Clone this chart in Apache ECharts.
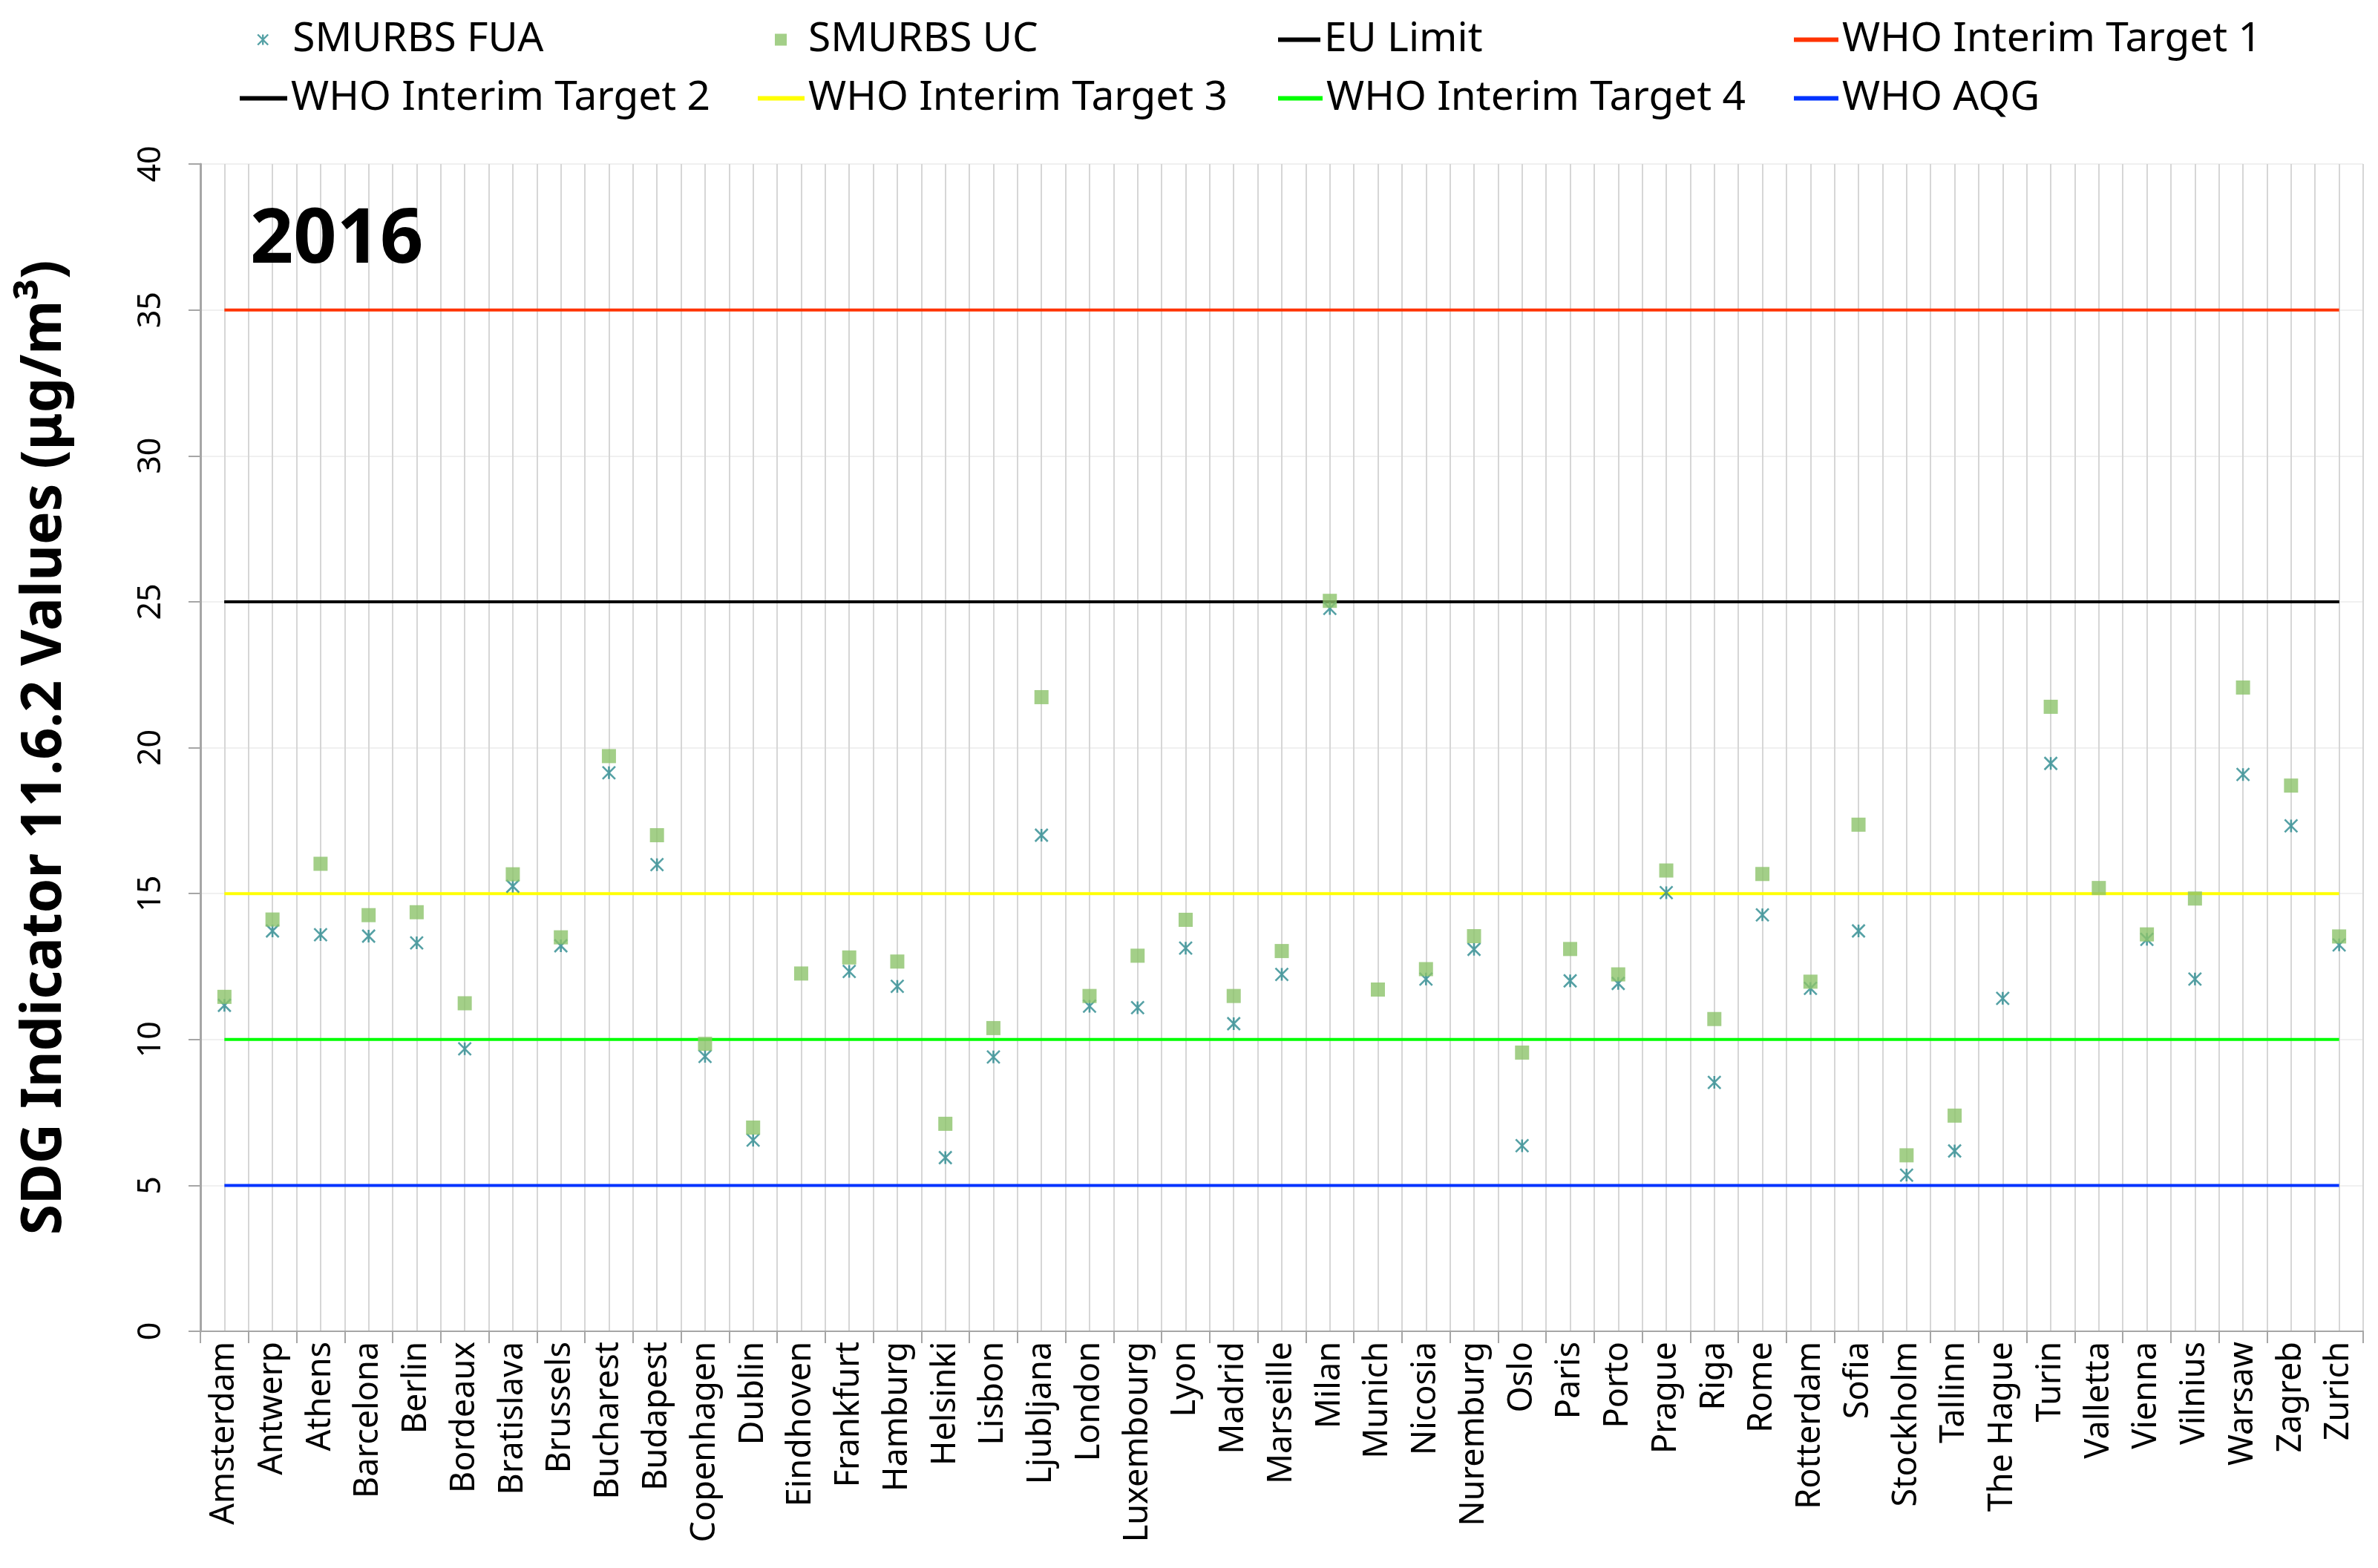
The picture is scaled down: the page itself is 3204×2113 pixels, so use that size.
<!DOCTYPE html>
<html>
<head>
<meta charset="utf-8">
<script src="https://cdn.jsdelivr.net/npm/echarts@6/dist/echarts.min.js"></script>
<style>
html,body{margin:0;padding:0;background:#fff;}
#chart{width:3204px;height:2113px;}
</style>
</head>
<body>
<div id="chart"></div>
<script>
const cities = ['Amsterdam','Antwerp','Athens','Barcelona','Berlin','Bordeaux','Bratislava','Brussels','Bucharest','Budapest','Copenhagen','Dublin','Eindhoven','Frankfurt','Hamburg','Helsinki','Lisbon','Ljubljana','London','Luxembourg','Lyon','Madrid','Marseille','Milan','Munich','Nicosia','Nuremburg','Oslo','Paris','Porto','Prague','Riga','Rome','Rotterdam','Sofia','Stockholm','Tallinn','The Hague','Turin','Valletta','Vienna','Vilnius','Warsaw','Zagreb','Zurich'];
const fuaValues = [11.17,13.72,13.59,13.54,13.31,9.68,15.25,13.21,19.14,15.99,9.42,6.55,null,12.33,11.82,5.95,9.4,17.0,11.14,11.09,13.13,10.54,12.23,24.77,null,12.07,13.09,6.36,12.01,11.92,15.03,8.53,14.27,11.75,13.72,5.35,6.18,11.41,19.46,null,13.43,12.07,19.08,17.32,13.24];
const ucValues = [11.46,14.11,16.02,14.26,14.36,11.24,15.66,13.5,19.71,17.0,9.85,6.98,12.26,12.81,12.67,7.11,10.39,21.73,11.49,12.87,14.1,11.49,13.03,25.03,11.71,12.41,13.54,9.55,13.1,12.23,15.79,10.7,15.67,11.98,17.36,6.03,7.39,null,21.4,15.19,13.6,14.83,22.06,18.7,13.53];
const thresholdNames = ['EU Limit','WHO Interim Target 1','WHO Interim Target 2','WHO Interim Target 3','WHO Interim Target 4','WHO AQG'];
const thresholdValues = [25, 35, 25, 15, 10, 5];
const thresholdColors = ['#000000','#ff3300','#000000','#ffff00','#00ff00','#0033ff'];
const yTicks = [0,5,10,15,20,25,30,35,40];
const yearLabel = '2016';

const FONT = '"Noto Sans", "Open Sans", sans-serif';
const fuaColor = '#2b8a8e';
const ucColor = '#8cc36a';
const starPath = 'path://M0 0L10 10M10 0L0 10M5 0L5 10';

const series = [
  {
    name: 'SMURBS FUA', type: 'scatter', data: fuaValues, z: 5,
    symbol: starPath, symbolSize: 17,
    itemStyle: {color: 'rgba(0,0,0,0)', borderColor: fuaColor, borderWidth: 2.6}
  },
  {
    name: 'SMURBS UC', type: 'scatter', data: ucValues, z: 6,
    symbol: 'rect', symbolSize: 19,
    itemStyle: {color: ucColor}
  }
];
thresholdNames.forEach((n, i) => {
  series.push({
    name: n, type: 'line', z: 3,
    data: [[cities[0], thresholdValues[i]], [cities[cities.length - 1], thresholdValues[i]]],
    symbol: 'none', showSymbol: false,
    lineStyle: {color: thresholdColors[i], width: 4},
    itemStyle: {color: thresholdColors[i]}
  });
});

const ROW1 = 26, ROW2 = 105;
const legendSpecs = [
  {name: 'SMURBS FUA', left: 346, top: ROW1, w: 14, h: 14, pad: 28},
  {name: 'SMURBS UC', left: 1044, top: ROW1, w: 16, h: 16, pad: 24},
  {name: 'EU Limit', left: 1722, top: ROW1, w: 57, h: 6, icon: 'rect', pad: 0},
  {name: 'WHO Interim Target 1', left: 2417, top: ROW1, w: 60, h: 6, icon: 'rect', pad: 0},
  {name: 'WHO Interim Target 2', left: 323, top: ROW2, w: 64, h: 6, icon: 'rect', pad: 0},
  {name: 'WHO Interim Target 3', left: 1021, top: ROW2, w: 63, h: 6, icon: 'rect', pad: 0},
  {name: 'WHO Interim Target 4', left: 1722, top: ROW2, w: 60, h: 6, icon: 'rect', pad: 0},
  {name: 'WHO AQG', left: 2417, top: ROW2, w: 60, h: 6, icon: 'rect', pad: 0}
];
const legends = legendSpecs.map(s => {
  const lg = {
    data: [s.name], left: s.left, top: s.top, itemWidth: s.w, itemHeight: s.h,
    itemGap: 0, padding: 0, selectedMode: false,
    textStyle: {fontFamily: FONT, fontSize: 55, color: '#000', padding: [0, 0, 0, s.pad]}
  };
  if (s.icon) lg.icon = s.icon;
  if (s.name === 'SMURBS FUA') lg.itemStyle = {color: 'rgba(0,0,0,0)', borderColor: fuaColor, borderWidth: 2.4};
  return lg;
});

const chart = echarts.init(document.getElementById('chart'));
chart.setOption({
  animation: false,
  backgroundColor: '#fff',
  legend: legends,
  graphic: [{
    type: 'text', left: 337, top: 274, z: 10,
    style: {text: yearLabel, font: 'bold 102px ' + FONT, fill: '#000'}
  }],
  grid: {left: 270, right: 20, top: 221, bottom: 319, containLabel: false},
  xAxis: [
    {
      type: 'category', data: cities, boundaryGap: true,
      axisLine: {lineStyle: {color: '#a6a6a6', width: 2}},
      axisTick: {show: true, interval: 0, length: 16, lineStyle: {color: '#a6a6a6', width: 2}},
      axisLabel: {interval: 0, rotate: 90, margin: 14, fontFamily: FONT, fontSize: 45, color: '#000'},
      splitLine: {show: false}
    },
    {
      type: 'value', min: 0, max: 90, interval: 1, position: 'top',
      axisLine: {show: false}, axisTick: {show: false}, axisLabel: {show: false},
      splitLine: {show: true, lineStyle: {color: '#d6d6d6', width: 2}}
    }
  ],
  yAxis: {
    type: 'value', min: yTicks[0], max: yTicks[yTicks.length - 1], interval: yTicks[1] - yTicks[0],
    name: 'SDG Indicator 11.6.2 Values (μg/m³)',
    nameLocation: 'middle', nameGap: 172,
    nameTextStyle: {fontFamily: FONT, fontSize: 75, fontWeight: 'bold', color: '#000'},
    axisLine: {show: true, lineStyle: {color: '#a6a6a6', width: 3}},
    axisTick: {show: true, length: 16, lineStyle: {color: '#a6a6a6', width: 2}},
    axisLabel: {rotate: 90, margin: 45, fontFamily: FONT, fontSize: 43, color: '#000'},
    splitLine: {show: true, lineStyle: {color: '#f0f0f0', width: 2}}
  },
  series: series
});
</script>
</body>
</html>
